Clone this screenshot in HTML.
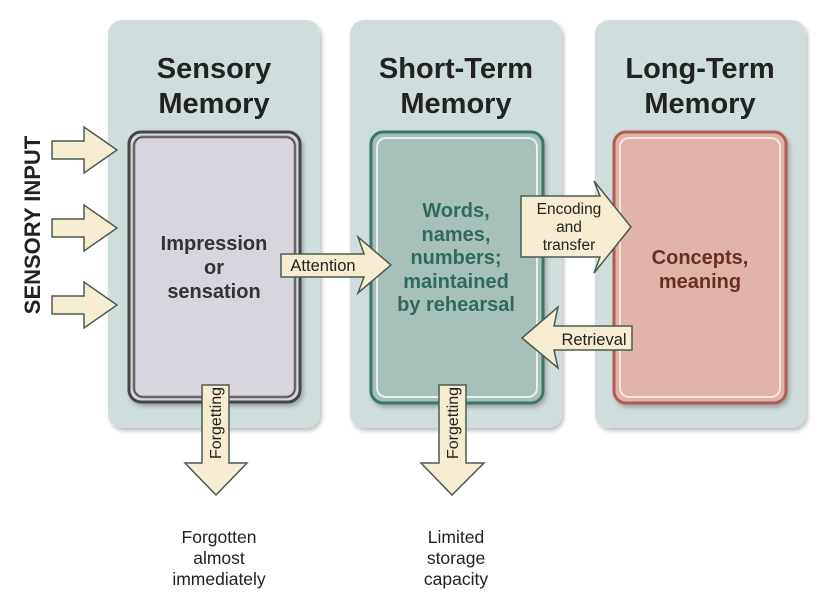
<!DOCTYPE html>
<html><head><style>body{margin:0;background:#fff}svg{display:block}</style></head><body>
<svg width="826" height="600" viewBox="0 0 826 600" xmlns="http://www.w3.org/2000/svg" font-family="Liberation Sans, sans-serif">
<defs><filter id="s" x="-10%" y="-10%" width="120%" height="120%"><feDropShadow dx="2" dy="3" stdDeviation="2" flood-opacity="0.25"/></filter></defs>
<rect x="108" y="20" width="212" height="408" rx="14" fill="#cfdedc" filter="url(#s)"/>
<rect x="350" y="20" width="212" height="408" rx="14" fill="#cfdedc" filter="url(#s)"/>
<rect x="595" y="20" width="211" height="408" rx="14" fill="#cfdedc" filter="url(#s)"/>
<g font-weight="bold" font-size="29" fill="#222" text-anchor="middle">
<text x="214" y="78">Sensory</text><text x="214" y="113">Memory</text>
<text x="456" y="78">Short-Term</text><text x="456" y="113">Memory</text>
<text x="700" y="78">Long-Term</text><text x="700" y="113">Memory</text>
</g>
<rect x="129" y="132" width="171" height="270" rx="12" fill="#d9d5de" stroke="#444" stroke-width="3" filter="url(#s)"/>
<rect x="134" y="137" width="161" height="260" rx="9" fill="none" stroke="#999" stroke-width="3"/>
<rect x="134" y="137" width="161" height="260" rx="9" fill="none" stroke="#333" stroke-width="1"/>
<rect x="371" y="132" width="172" height="271" rx="12" fill="#a7c1ba" stroke="#3d7567" stroke-width="3" filter="url(#s)"/>
<rect x="377" y="138" width="160" height="259" rx="9" fill="none" stroke="#e7f0ec" stroke-width="2"/>
<rect x="614" y="132" width="172" height="271" rx="12" fill="#e0b4ab" stroke="#b25a52" stroke-width="3" filter="url(#s)"/>
<rect x="620" y="138" width="160" height="259" rx="9" fill="none" stroke="#f6e4de" stroke-width="2"/>
<g font-weight="bold" font-size="20" text-anchor="middle">
<text fill="#333" x="214" y="250">Impression</text><text fill="#333" x="214" y="274">or</text><text fill="#333" x="214" y="298">sensation</text>
<text fill="#2f6b5b" x="456" y="217">Words,</text><text fill="#2f6b5b" x="456" y="241">names,</text><text fill="#2f6b5b" x="456" y="264">numbers;</text><text fill="#2f6b5b" x="456" y="288">maintained</text><text fill="#2f6b5b" x="456" y="311">by rehearsal</text>
<text fill="#6b2f22" x="700" y="264">Concepts,</text><text fill="#6b2f22" x="700" y="288">meaning</text>
</g>
<g fill="#f6ecd1" stroke="#4b5a50" stroke-width="1.5" stroke-linejoin="miter">
<polygon points="52,141 84,141 84,127 117,150 84,173 84,159 52,159"/>
<polygon points="52,219 84,219 84,205 117,228 84,251 84,237 52,237"/>
<polygon points="52,296 84,296 84,282 117,305 84,328 84,314 52,314"/>
<polygon points="281,254 364,254 358,237 391,265 358,293 364,277 281,277"/>
<polygon points="521,196 600,196 594,181 631,227 594,273 600,257 521,257"/>
<polygon points="632,326 554,326 558,307 522,338 558,368 554,350 632,350"/>
<polygon points="202,385 229,385 229,463 247,463 216,495 185,463 202,463"/>
<polygon points="439,385 466,385 466,463 484,463 452,495 421,463 439,463"/>
</g>
<g font-size="16.5" fill="#222" text-anchor="middle">
<text x="323" y="271">Attention</text>
<text x="569" y="214" font-size="15.5">Encoding</text><text x="569" y="232" font-size="15.5">and</text><text x="569" y="250" font-size="15.5">transfer</text>
<text x="594" y="345">Retrieval</text>
<text transform="translate(221,423) rotate(-90)" font-size="16">Forgetting</text>
<text transform="translate(458,423) rotate(-90)" font-size="16">Forgetting</text>
<text x="219" y="543" font-size="17.5">Forgotten</text><text x="219" y="564" font-size="17.5">almost</text><text x="219" y="585" font-size="17.5">immediately</text>
<text x="456" y="543" font-size="17.5">Limited</text><text x="456" y="564" font-size="17.5">storage</text><text x="456" y="585" font-size="17.5">capacity</text>
</g>
<text transform="translate(40,225) rotate(-90)" text-anchor="middle" font-weight="bold" font-size="22" fill="#222">SENSORY INPUT</text>
</svg>
</body></html>
